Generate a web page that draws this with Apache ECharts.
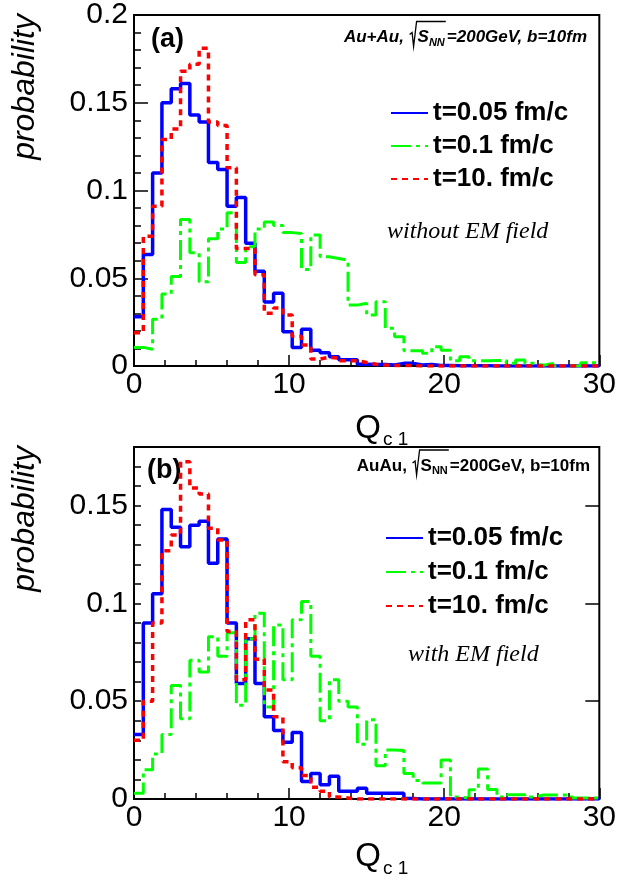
<!DOCTYPE html>
<html><head><meta charset="utf-8">
<script src="https://cdn.jsdelivr.net/npm/echarts@6/dist/echarts.min.js"></script>
<style>html,body{margin:0;padding:0;background:#fff}#c{width:619px;height:880px}</style>
</head><body><div id="c"></div>
<script>
// ---------------- data ----------------
const binEdges = [0,0.6,1.2,1.8,2.4,3,3.6,4.2,4.8,5.4,6,6.6,7.2,7.8,8.4,9,9.6,10.2,10.8,11.4,
  12,12.6,13.2,13.8,14.4,15,15.6,16.2,16.8,17.4,18,18.6,19.2,19.8,20.4,21,21.6,22.2,22.8,23.4,
  24,24.6,25.2,25.8,26.4,27,27.6,28.2,28.8,29.4,30];
const seriesNames = ['t=0.05 fm/c','t=0.1 fm/c','t=10. fm/c'];
const xTickLabels = [0,10,20,30];
const yTicksA = [0,0.05,0.1,0.15,0.2];
const yTicksB = [0,0.05,0.1,0.15];

// panel (a): without EM field
const blueA = [0.028,0.0636,0.110,0.150,0.158,0.161,0.143,0.139,0.116,0.112,
  0.091,0.096,0.070,0.054,0.0365,0.0415,0.0195,0.0105,0.021,0.009,
  0.0075,0.0053,0.0035,0.0035,0.001,0.0008,0.0008,0.0006,0.0015,0.0015,
  0.0006,0.0008,0.0003,0.0003,0.0002,0.0002,0.0001,0.0001,0,0,
  0,0,0,0,0,0,0,0,0,0];
const greenA = [0.0106,0.0095,0.0267,0.041,0.051,0.0835,0.0646,0.048,0.0725,0.078,
  0.0873,0.059,0.068,0.078,0.082,0.080,0.076,0.0755,0.055,0.0746,
  0.0622,0.0613,0.0603,0.0347,0.0357,0.029,0.0366,0.0215,0.0167,0.0087,
  0.0087,0.0072,0.011,0.009,0.003,0.0053,0.003,0.003,0.0032,0.0032,
  0.0015,0.0034,0.0015,0.0004,0.0015,0,0,0,0.0019,0.0019];
const redA = [0.019,0.074,0.091,0.129,0.135,0.168,0.172,0.181,0.139,0.137,
  0.113,0.067,0.067,0.052,0.030,0.033,0.029,0.017,0.012,0.004,
  0.005,0.0045,0.003,0.003,0.002,0.001,0.0005,0.0003,0.0003,0.0002,
  0,0,0,0,0,0,0,0,0,0,
  0,0,0,0,0,0,0,0,0,0];

// panel (b): with EM field
const blueB = [0.033,0.090,0.105,0.148,0.139,0.129,0.140,0.142,0.1206,0.133,
  0.090,0.059,0.082,0.059,0.042,0.035,0.029,0.034,0.009,0.013,
  0.0073,0.0116,0.004,0.004,0.0055,0.003,0.003,0.003,0.003,0.0003,
  0,0,0,0,0,0,0,0,0,0,
  0,0,0,0,0,0,0,0,0,0];
const greenB = [0.003,0.015,0.023,0.033,0.058,0.041,0.071,0.065,0.083,0.073,
  0.085,0.048,0.082,0.095,0.047,0.089,0.061,0.0916,0.101,0.073,
  0.040,0.061,0.050,0.047,0.028,0.0405,0.017,0.025,0.0248,0.013,
  0.0095,0.0082,0.0082,0.020,0.001,0.0005,0.0047,0.0153,0.0048,0.001,
  0.0022,0.0022,0.001,0.002,0.002,0.002,0.002,0.0005,0.0005,0.0005];
const redB = [0.030,0.050,0.090,0.127,0.135,0.1725,0.159,0.156,0.1385,0.1325,
  0.0857,0.061,0.0916,0.0715,0.0558,0.042,0.019,0.016,0.012,0.006,
  0.004,0.001,0.0005,0,0,0,0,0,0,0,
  0,0,0,0,0,0,0,0,0,0,
  0,0,0,0,0,0,0,0,0,0];

// ---------------- helpers ----------------
function hist(vals){
  const d = vals.map((v,i)=>[binEdges[i], v]);
  d.push([binEdges[binEdges.length-1], vals[vals.length-1]]);
  return d;
}
const FONT = '"Liberation Sans", Arial, sans-serif';
const styles = [
  {color:'#0000ff', width:3.5, type:'solid'},
  {color:'#00ff00', width:3, type:[20,5,4,5]},
  {color:'#ff0000', width:3.5, type:[6,5]}
];
function mkSeries(vals, k, gi, yi){
  return {type:'line', name:seriesNames[k], xAxisIndex:gi, yAxisIndex:yi, step:'end',
    symbol:'none', showSymbol:false, animation:false, z: 2+k,
    lineStyle:{color:styles[k].color, width:styles[k].width, type:styles[k].type},
    itemStyle:{color:styles[k].color},
    data: hist(vals)};
}
function fmt(v){ return String(+v.toFixed(2)); }
function xAxis(gi){
  return {type:'value', gridIndex:gi, min:0, max:30, interval:10,
    axisLine:{show:true, onZero:false, lineStyle:{color:'#000', width:2}},
    axisTick:{show:true, inside:true, length:11, lineStyle:{color:'#000', width:1.5}},
    minorTick:{show:true, splitNumber:5, length:6, lineStyle:{color:'#000', width:1.5}},
    splitLine:{show:false}, minorSplitLine:{show:false},
    axisLabel:{color:'#000', fontSize:30, fontFamily:FONT, margin:4,
      formatter:v=> xTickLabels.indexOf(Math.round(v))>=0 ? String(Math.round(v)) : ''}};
}
function isTick(v, list){ return list.some(t=>Math.abs(t-v)<1e-6); }

const mctx = document.createElement('canvas').getContext('2d');
function tw(t,f){ mctx.font=f; return mctx.measureText(t).width; }

// collision-system label with a drawn radical over S_NN
function collision(pre, italic, right, cy){
  const sty = (italic?'italic ':'') + 'bold ';
  const fMain = sty + '17px ' + FONT, fSub = sty + '11px ' + FONT;
  const radW = 9, post = '=200GeV, b=10fm';
  const w1 = tw(pre,fMain), wS = tw('S',fMain), wN = tw('NN',fSub), w2 = tw(post,fMain);
  const total = w1 + radW + wS + wN + 2 + w2;
  let x = right - total;
  const els = [];
  els.push({type:'text', x:x, y:cy, style:{text:pre, font:fMain, fill:'#000', textAlign:'left', textVerticalAlign:'middle'}});
  x += w1;
  const rx = x + 1;
  x += radW;
  els.push({type:'text', x:x, y:cy, style:{text:'S', font:fMain, fill:'#000', textAlign:'left', textVerticalAlign:'middle'}});
  x += wS;
  els.push({type:'text', x:x, y:cy+5, style:{text:'NN', font:fSub, fill:'#000', textAlign:'left', textVerticalAlign:'middle'}});
  x += wN;
  const oEnd = x + 1;
  x += 2;
  els.push({type:'text', x:x, y:cy, style:{text:post, font:fMain, fill:'#000', textAlign:'left', textVerticalAlign:'middle'}});
  els.push({type:'polyline', shape:{points:[[rx,cy-3],[rx+2.5,cy-5],[rx+4,cy+9],[rx+7,cy-16],[oEnd,cy-16]]},
    style:{stroke:'#000', lineWidth:1.3, fill:null}});
  return els;
}

const graphics = [];
function txt(x,y,text,font,align,extra){
  graphics.push(Object.assign({type:'text', x:x, y:y, style:{text:text, font:font, fill:'#000', textAlign:align||'left', textVerticalAlign:'middle'}}, extra||{}));
}
// panel labels
txt(151, 40, '(a)', 'bold 27px '+FONT);
txt(147, 471, '(b)', 'bold 27px '+FONT);
txt(387, 232, 'without EM field', 'italic 24px "Liberation Serif", serif');
txt(408, 655, 'with EM field', 'italic 24px "Liberation Serif", serif');
// y titles
txt(25, 14, 'probability', 'italic 32px '+FONT, 'right', {rotation:Math.PI/2});
txt(25, 446, 'probability', 'italic 32px '+FONT, 'right', {rotation:Math.PI/2});
// x titles
txt(368, 429, 'Q', '33px '+FONT, 'center');
txt(383, 440, 'c 1', '19px '+FONT, 'left');
txt(368, 857, 'Q', '33px '+FONT, 'center');
txt(383, 869, 'c 1', '19px '+FONT, 'left');
graphics.push(...collision('Au+Au, ', true, 587, 37.5));
graphics.push(...collision('AuAu, ', false, 590, 466));

const legendBase = {data:seriesNames, orient:'vertical', itemWidth:37, itemHeight:14,
  selectedMode:false, itemStyle:{opacity:0},
  textStyle:{fontSize:26, fontWeight:'bold', fontFamily:FONT, color:'#000', lineHeight:26}};

const option = {
  animation:false,
  backgroundColor:'#fff',
  grid:[
    {left:134, top:15, width:466, height:351, show:true, borderColor:'#000', borderWidth:2, backgroundColor:'transparent'},
    {left:134, top:447, width:466, height:352, show:true, borderColor:'#000', borderWidth:2, backgroundColor:'transparent'}
  ],
  xAxis:[xAxis(0), xAxis(1)],
  yAxis:[
    {type:'value', gridIndex:0, min:0, max:0.2, interval:0.05,
      axisLine:{show:true, lineStyle:{color:'#000', width:2}},
      axisTick:{show:true, inside:true, length:14, lineStyle:{color:'#000', width:1.5}},
      minorTick:{show:true, splitNumber:5, length:7, lineStyle:{color:'#000', width:1.5}},
      splitLine:{show:false}, minorSplitLine:{show:false},
      axisLabel:{color:'#000', fontSize:30, fontFamily:FONT, margin:6,
        formatter:v=> isTick(v,yTicksA)? fmt(v):''}},
    {type:'value', gridIndex:1, min:0, max:0.18, interval:0.01,
      axisLine:{show:true, lineStyle:{color:'#000', width:2}},
      axisTick:{show:true, inside:true, length:7, lineStyle:{color:'#000', width:1.5}},
      splitLine:{show:false},
      axisLabel:{color:'#000', fontSize:30, fontFamily:FONT, margin:6,
        formatter:v=> isTick(v,yTicksB)? fmt(v):''}},
    {type:'value', gridIndex:1, min:0, max:0.18, interval:0.05,
      axisLine:{show:false},
      axisTick:{show:true, inside:true, length:14, lineStyle:{color:'#000', width:1.5}},
      splitLine:{show:false}, axisLabel:{show:false}}
  ],
  legend:[
    Object.assign({}, legendBase, {left:385, top:95, itemGap:7}),
    Object.assign({}, legendBase, {left:380, top:520, itemGap:8})
  ],
  graphic: graphics,
  series:[
    mkSeries(blueA,0,0,0), mkSeries(greenA,1,0,0), mkSeries(redA,2,0,0),
    mkSeries(blueB,0,1,1), mkSeries(greenB,1,1,1), mkSeries(redB,2,1,1)
  ]
};
const chart = echarts.init(document.getElementById('c'), null, {renderer:'canvas'});
chart.setOption(option);
</script></body></html>
